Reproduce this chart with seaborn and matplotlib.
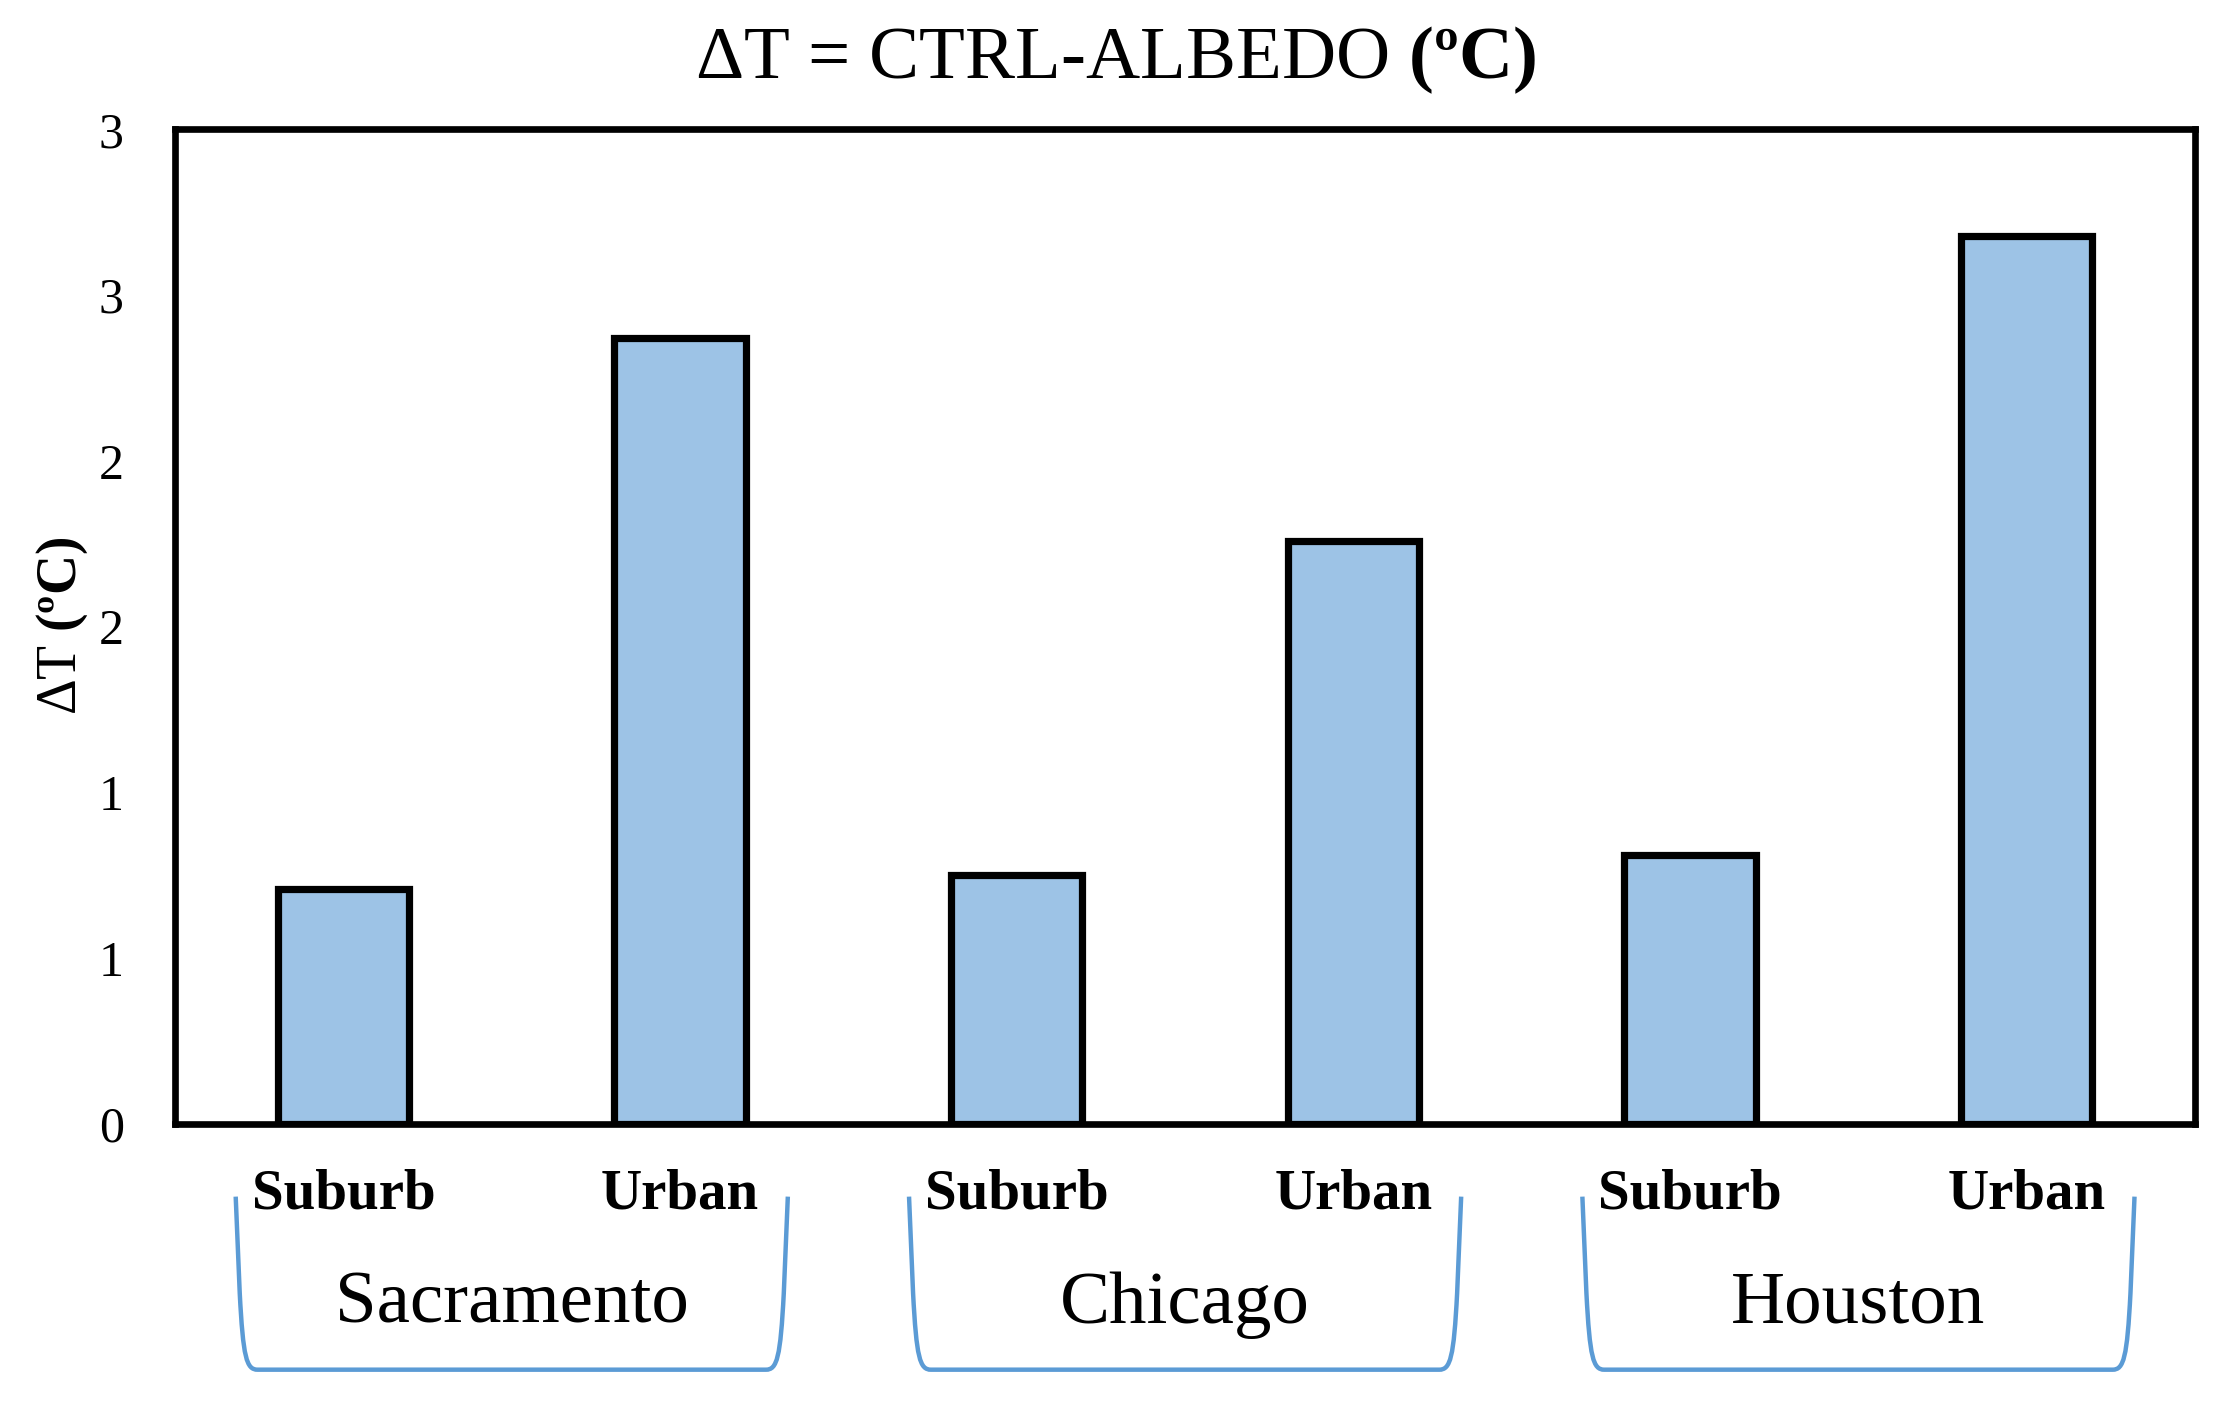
import numpy as np
import pandas as pd
import matplotlib
matplotlib.use('Agg')
import matplotlib.pyplot as plt
import matplotlib.transforms as mtransforms
from matplotlib.path import Path
from matplotlib.patches import PathPatch
from matplotlib.ticker import FuncFormatter
import seaborn as sns

# values
cities = ["Sacramento", "Chicago", "Houston"]
zones = ["Suburb", "Urban"]
suburb_dt = [0.71, 0.75, 0.81]
urban_dt = [2.37, 1.76, 2.68]
y_ticks = [0, 0.5, 1, 1.5, 2, 2.5, 3]

BAR_COLOR = "#9DC3E6"
BRACKET_COLOR = "#5B9BD5"

sns.set_style("white")
plt.rcParams['font.family'] = ['Liberation Serif', 'DejaVu Serif']
plt.rcParams['mathtext.fontset'] = 'custom'
plt.rcParams['mathtext.rm'] = 'Liberation Serif'
plt.rcParams['mathtext.bf'] = 'Liberation Serif:bold'
for key in ['text.color', 'axes.labelcolor', 'xtick.color', 'ytick.color']:
    plt.rcParams[key] = 'black'

rows = []
for city, s, u in zip(cities, suburb_dt, urban_dt):
    rows.append({"site": f"{city} Suburb", "zone": "Suburb", "dt": s})
    rows.append({"site": f"{city} Urban", "zone": "Urban", "dt": u})
df = pd.DataFrame(rows)

fig = plt.figure(figsize=(22.22, 14.01), dpi=100)
ax = fig.add_axes([0.0788, 0.1977, 0.9091, 0.7099])

sns.barplot(data=df, x="site", y="dt", color=BAR_COLOR, edgecolor="black",
            linewidth=5.2, width=0.39, saturation=1, ax=ax)

ax.set_xlim(-0.5, len(df) - 0.5)
ax.set_ylim(0, 3)
ax.set_yticks(y_ticks)
# Excel style rounding of the labels (0.5 -> 1)
ax.yaxis.set_major_formatter(FuncFormatter(lambda v, p: str(int(np.floor(v + 0.5)))))
ax.tick_params(axis='y', length=0, pad=37, labelsize=36)
ax.tick_params(axis='x', length=0, pad=32, labelsize=41)
ax.set_xticks(range(len(df)))
ax.set_xticklabels(df["zone"], fontweight='bold')
ax.set_xlabel("")
ax.set_ylabel("")

for sp in ax.spines.values():
    sp.set_visible(True)
    sp.set_color("black")
    sp.set_linewidth(4.8)

fig.text(0.028, 0.553, r"ΔT $\mathbf{(ºC)}$", rotation=90, fontsize=40,
         ha='center', va='center')
fig.text(0.502, 0.957, r"ΔT = CTRL-ALBEDO $\mathbf{(ºC)}$", fontsize=54,
         ha='center', va='center')

# group brackets under the tick labels
trans = mtransforms.blended_transform_factory(ax.transData, ax.transAxes)
top, bot = -0.073, -0.247
hw = 0.82
for i, city in enumerate(cities):
    c = 2 * i + 0.5
    xl, xr = c - hw, c + hw
    verts = [(xl, top), (xl + 0.012, -0.17),
             (xl + 0.022, -0.235), (xl + 0.032, bot), (xl + 0.065, bot),
             (xr - 0.065, bot),
             (xr - 0.032, bot), (xr - 0.022, -0.235), (xr - 0.012, -0.17),
             (xr, top)]
    codes = [Path.MOVETO, Path.LINETO,
             Path.CURVE4, Path.CURVE4, Path.CURVE4,
             Path.LINETO,
             Path.CURVE4, Path.CURVE4, Path.CURVE4,
             Path.LINETO]
    ax.add_patch(PathPatch(Path(verts, codes), transform=trans, fill=False,
                           edgecolor=BRACKET_COLOR, linewidth=3.2, clip_on=False))
    ax.text(c, -0.2, city, transform=trans, fontsize=54, ha='center',
            va='baseline')

fig.savefig("out.png", dpi=100, facecolor="white")
